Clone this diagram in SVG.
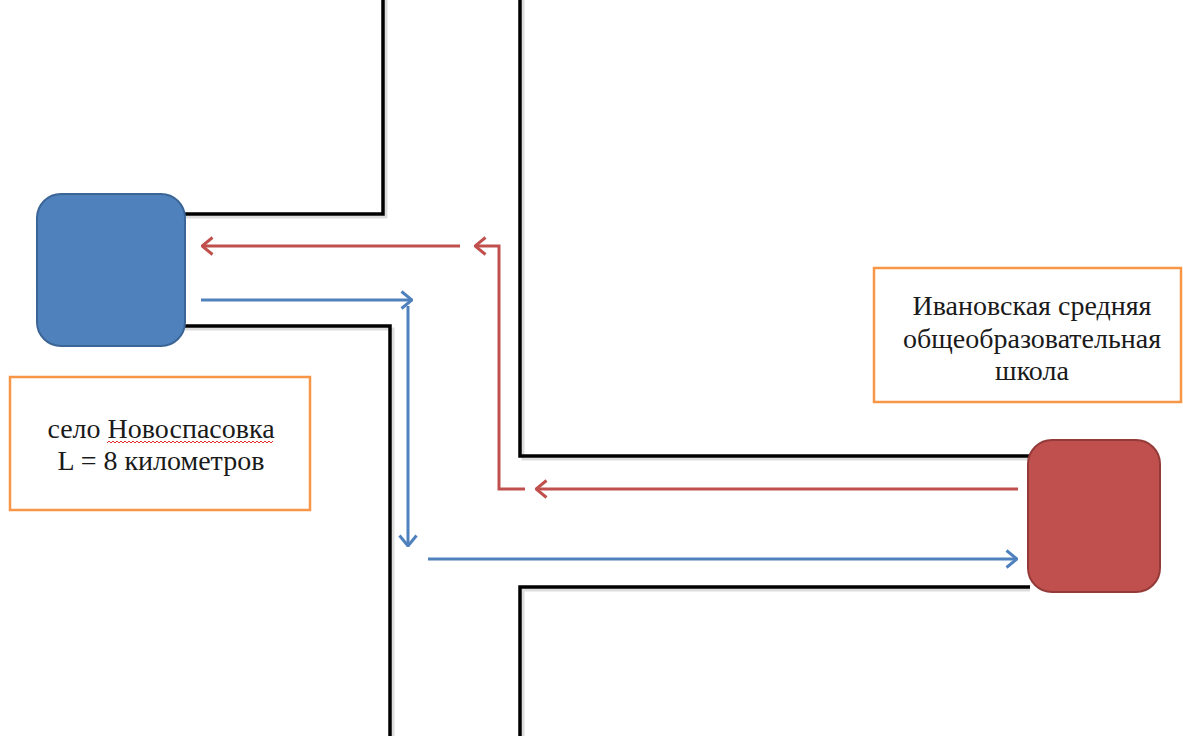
<svg xmlns="http://www.w3.org/2000/svg" width="1183" height="736" viewBox="0 0 1183 736">
<style>
.road{fill:none;stroke:#000;stroke-width:3.5;stroke-linejoin:miter}
.shadow{fill:none;stroke:#bbb;stroke-width:3;opacity:0.5}
.red{fill:none;stroke:#c0504d;stroke-width:3}
.blue{fill:none;stroke:#4f81bd;stroke-width:3}
.lbl{fill:#fff;stroke:#f79646;stroke-width:2.5}
.t{font-family:"Liberation Serif","Times New Roman",serif;font-size:28px;fill:#1a1a1a;text-anchor:middle}
</style>
<defs>
<marker id="ar" viewBox="0 0 13 20" refX="12" refY="10" markerWidth="13" markerHeight="20" markerUnits="userSpaceOnUse" orient="auto">
<path d="M1.5,1.5 L12,10 L1.5,18.5" fill="none" stroke="#c0504d" stroke-width="3"/>
</marker>
<marker id="ab" viewBox="0 0 13 20" refX="12" refY="10" markerWidth="13" markerHeight="20" markerUnits="userSpaceOnUse" orient="auto">
<path d="M1.5,1.5 L12,10 L1.5,18.5" fill="none" stroke="#4f81bd" stroke-width="3"/>
</marker>
</defs>
<rect width="1183" height="736" fill="#fff"/>
<g id="roads">
<path class="shadow" d="M177,217 H386 V0 M523,0 V459 H1030 M185,329 H393 V736 M1030,590 H523 V736"/>
<path class="road" d="M177,214 H383 V0"/>
<path class="road" d="M520,0 V456 H1030"/>
<path class="road" d="M185,326 H390 V736"/>
<path class="road" d="M1030,587 H520 V736"/>
</g>
<g id="blue-node">
<rect x="37" y="194" width="148" height="152" rx="24" fill="#4f81bd" stroke="#3b6596" stroke-width="2"/>
</g>
<g id="red-node">
<rect x="1028" y="440" width="132" height="152" rx="24" fill="#c0504d" stroke="#943b39" stroke-width="2"/>
</g>
<g id="connectors">
<path class="red" d="M460,246 H202" marker-end="url(#ar)"/>
<path class="red" d="M525,489 H499 V246 H475" marker-end="url(#ar)"/>
<path class="red" d="M1018,489 H536" marker-end="url(#ar)"/>
<path class="blue" d="M201,300 H412" marker-end="url(#ab)"/>
<path class="blue" d="M408,306 V546" marker-end="url(#ab)"/>
<path class="blue" d="M428,559 H1017" marker-end="url(#ab)"/>
</g>
<g id="label-village">
<rect class="lbl" x="10" y="377" width="300" height="133"/>
<text class="t" x="161" y="438">село Новоспасовка</text>
<text class="t" x="161" y="470">L = 8 километров</text>
<path d="M107,443 l2,-2 l2,2 l2,-2 l2,2 l2,-2 l2,2 l2,-2 l2,2 l2,-2 l2,2 l2,-2 l2,2 l2,-2 l2,2 l2,-2 l2,2 l2,-2 l2,2 l2,-2 l2,2 l2,-2 l2,2 l2,-2 l2,2 l2,-2 l2,2 l2,-2 l2,2 l2,-2 l2,2 l2,-2 l2,2 l2,-2 l2,2 l2,-2 l2,2 l2,-2 l2,2 l2,-2 l2,2 l2,-2 l2,2 l2,-2 l2,2 l2,-2 l2,2 l2,-2 l2,2 l2,-2 l2,2 l2,-2 l2,2 l2,-2 l2,2 l2,-2 l2,2 l2,-2 l2,2 l2,-2 l2,2 l2,-2 l2,2 l2,-2 l2,2 l2,-2 l2,2 l2,-2 l2,2 l2,-2 l2,2 l2,-2 l2,2 l2,-2 l2,2 l2,-2 l2,2 l2,-2 l2,2 l2,-2 l2,2 l2,-2 l2,2 l2,-2" fill="none" stroke="#e03030" stroke-width="1"/>
</g>
<g id="label-school">
<rect class="lbl" x="874" y="268" width="307" height="134"/>
<text class="t" x="1032" y="315">Ивановская средняя</text>
<text class="t" x="1032" y="348">общеобразовательная</text>
<text class="t" x="1032" y="380">школа</text>
</g>
</svg>
